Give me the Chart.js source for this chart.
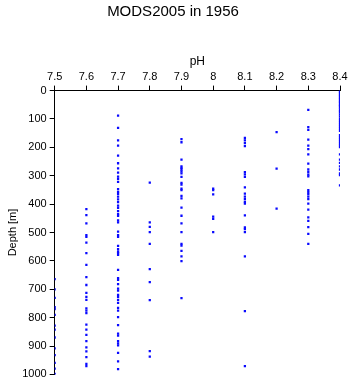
<!DOCTYPE html>
<html>
<head>
<meta charset="utf-8">
<script src="https://cdn.jsdelivr.net/npm/chart.js@4"></script>
<style>
  html, body { margin: 0; padding: 0; background: #fff; }
  #wrap { width: 350px; height: 384px; }
</style>
</head>
<body>
<div id="wrap"><canvas id="phChart" width="350" height="384"></canvas></div>
<script>
// pH classes and the depths (m) observed at each
const phLevels = [7.5, 7.6, 7.7, 7.8, 7.9, 8.0, 8.1, 8.2, 8.3, 8.4];
const depth75 = [664, 700, 730, 763, 770, 790, 828, 842, 870, 908, 932, 959, 980, 998];
const depth76 = [418, 439, 468, 509, 515, 536, 573, 614, 657, 685, 713, 727, 737, 767, 775, 784, 825, 842, 861, 883, 905, 919, 939, 963, 971];
const depth77 = [88, 131, 175, 194, 229, 256, 274, 289, 303, 311, 322, 347, 357, 364, 374, 383, 393, 405, 413, 425, 435, 441, 457, 464,
  497, 509, 515, 547, 559, 567, 573, 579, 632, 661, 667, 682, 698, 705, 720, 727, 737, 748, 766, 775, 798, 826, 856, 863, 883, 891, 898, 924, 954, 981];
const depth78 = [324, 464, 480, 499, 540, 629, 675, 738, 918, 937];
const depth79 = [171, 182, 243, 267, 272, 278, 285, 292, 304, 325, 331, 345, 351, 371, 380, 412, 441, 468, 499, 540, 546, 565, 584, 601, 731];
const depth80 = [345, 351, 366, 444, 452, 499];
const depth81 = [167, 175, 185, 196, 287, 295, 304, 341, 363, 374, 382, 392, 398, 440, 482, 488, 499, 584, 777, 971];
const depth82 = [146, 275, 416];
const depth83 = [68, 129, 138, 173, 194, 206, 225, 257, 278, 287, 296, 302, 351, 358, 365, 374, 382, 398, 419, 447, 459, 481, 505, 540];
const depth84 = [0, 5, 10, 15, 20, 25, 30, 35, 40, 45, 50, 55, 60, 66, 72, 78, 85, 92, 100, 107, 114, 121, 128, 135, 142, 157, 164,
  171, 178, 185, 192, 199, 225, 243, 255, 267, 278, 292, 298, 334];
const depthsByPh = [depth75, depth76, depth77, depth78, depth79, depth80, depth81, depth82, depth83, depth84];

const points = [];
phLevels.forEach((ph, i) => {
  depthsByPh[i].forEach(d => points.push({ x: ph, y: d }));
});

const font = { family: 'Liberation Sans', size: 11 };
const black = '#000';

new Chart(document.getElementById('phChart').getContext('2d'), {
  type: 'scatter',
  data: {
    datasets: [{
      data: points,
      backgroundColor: '#0a0aff',
      borderColor: '#0a0aff',
      borderWidth: 0,
      pointStyle: 'rect',
      pointRadius: 1.6
    }]
  },
  options: {
    responsive: false,
    animation: false,
    layout: { padding: { left: 6, right: 10, top: 0, bottom: 6 } },
    plugins: {
      legend: { display: false },
      tooltip: { enabled: false },
      title: {
        display: true,
        text: 'MODS2005 in 1956',
        color: black,
        font: { family: 'Liberation Sans', size: 15, weight: 'normal' },
        padding: { top: 3, bottom: 33 }
      }
    },
    scales: {
      x: {
        type: 'linear',
        position: 'top',
        min: 7.5,
        max: 8.4,
        title: { display: true, text: 'pH', color: black, font: { family: 'Liberation Sans', size: 12 }, padding: { top: 0, bottom: 0 } },
        ticks: {
          stepSize: 0.1,
          color: black,
          font,
          maxRotation: 0,
          padding: 2,
          callback: v => String(Number(v.toFixed(1)))
        },
        grid: { drawOnChartArea: false, drawTicks: true, tickLength: 5, color: black },
        border: { display: true, color: black, width: 1 }
      },
      y: {
        type: 'linear',
        reverse: true,
        min: 0,
        max: 1000,
        title: { display: true, text: 'Depth [m]', color: black, font: { family: 'Liberation Sans', size: 11 }, padding: { top: 0, bottom: 0 } },
        ticks: { stepSize: 100, color: black, font, padding: 3, callback: v => String(v) },
        grid: { drawOnChartArea: false, drawTicks: true, tickLength: 5, color: black },
        border: { display: true, color: black, width: 1 }
      }
    }
  }
});
</script>
</body>
</html>
